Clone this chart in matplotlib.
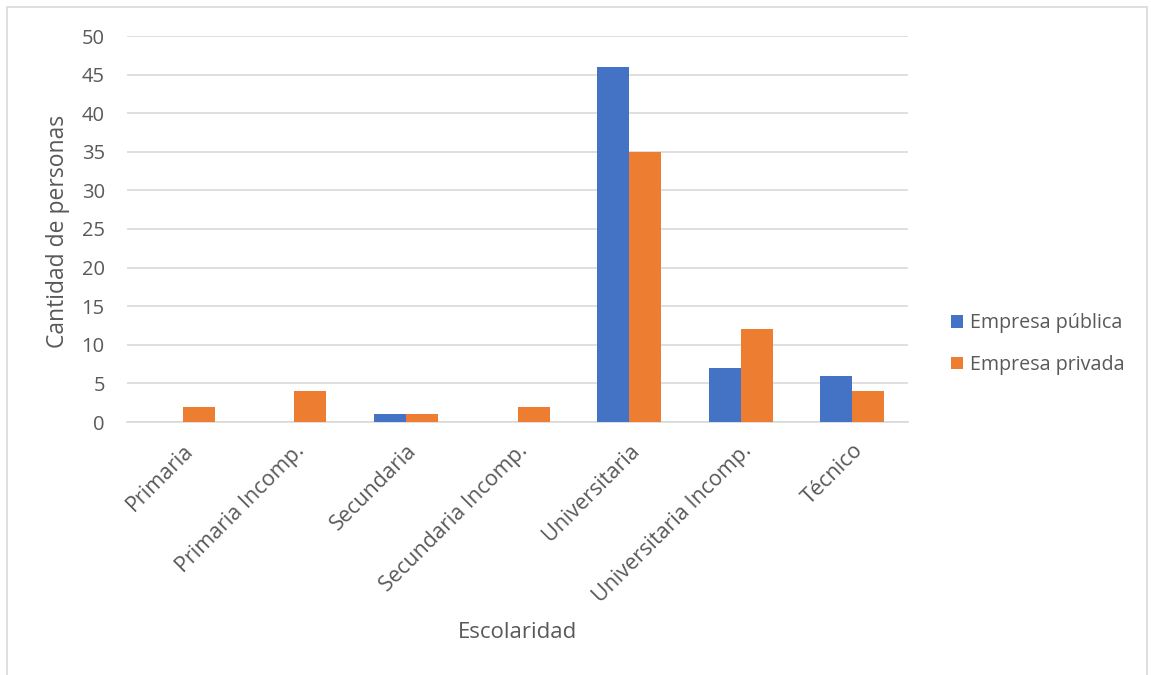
import matplotlib
matplotlib.use("Agg")
import matplotlib.pyplot as plt
import numpy as np
from matplotlib.patches import Rectangle, Patch

categories = ["Primaria", "Primaria Incomp.", "Secundaria", "Secundaria Incomp.",
              "Universitaria", "Universitaria Incomp.", "Técnico"]
publica = [0, 0, 1, 0, 46, 7, 6]
privada = [2, 4, 1, 2, 35, 12, 4]
series_names = ["Empresa pública", "Empresa privada"]
colors = ["#4472C4", "#ED7D31"]
yticks = [0, 5, 10, 15, 20, 25, 30, 35, 40, 45, 50]

plt.rcParams['font.family'] = ['Open Sans', 'DejaVu Sans']
txt = "#595959"

W, H = 1151, 675
fig = plt.figure(figsize=(W/100, H/100), dpi=100)
ax = fig.add_axes([127/W, 1-422/H, (908-127)/W, (422-36)/H])

x = np.arange(len(categories))
bw = 0.287
ax.bar(x - bw/2, publica, bw, color=colors[0], zorder=3)
ax.bar(x + bw/2, privada, bw, color=colors[1], zorder=3)

ax.set_xlim(-0.5, len(categories) - 0.5)
ax.set_ylim(0, 50)
ax.set_yticks(yticks)
ax.set_yticklabels([str(v) for v in yticks], fontsize=14.5, color=txt)
ax.yaxis.grid(True, color="#D9D9D9", linewidth=1.2, zorder=0)
ax.set_xticks(x)
ax.set_xticklabels(categories, rotation=45, ha='right', rotation_mode='anchor',
                   fontsize=15.5, color=txt)
ax.tick_params(axis='both', length=0)
ax.tick_params(axis='y', pad=16)
ax.tick_params(axis='x', pad=13)
for s in ["top", "right", "left"]:
    ax.spines[s].set_visible(False)
ax.spines["bottom"].set_color("#D9D9D9")
ax.spines["bottom"].set_linewidth(1.2)

fig.text(58/W, 1-231/H, "Cantidad de personas", rotation=90, ha='center', va='center',
         fontsize=16.5, color=txt)
fig.text(517/W, 1-632/H, "Escolaridad", ha='center', va='center', fontsize=16, color=txt)

handles = [Patch(facecolor=c, edgecolor='none') for c in colors]
fig.legend(handles, series_names, loc='center left', bbox_to_anchor=(933/W, 1-344/H),
           frameon=False, fontsize=14.2, labelcolor=txt, handlelength=0.62, handleheight=0.62,
           handletextpad=0.35, labelspacing=1.1)

fig.patches.append(Rectangle((7/W, -0.1), (1147-7)/W, 1-7/H + 0.1, transform=fig.transFigure,
                             fill=False, edgecolor="#D9D9D9", linewidth=1.2))

fig.savefig("out.png", dpi=100)
